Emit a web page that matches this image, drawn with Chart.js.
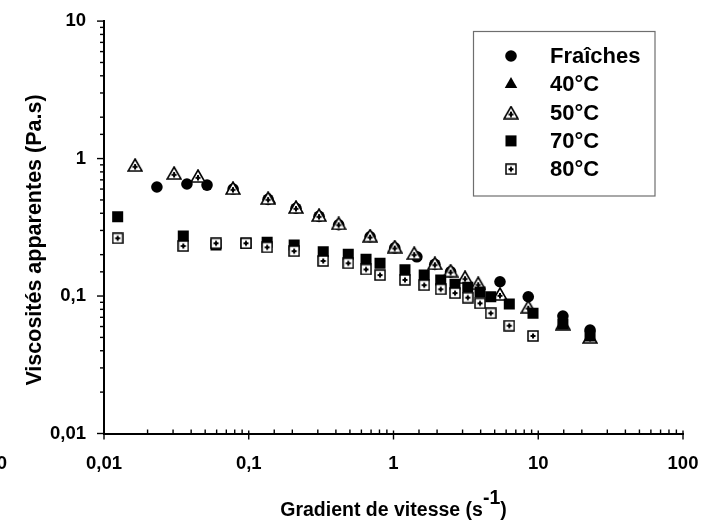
<!DOCTYPE html>
<html>
<head>
<meta charset="utf-8">
<script src="https://cdn.jsdelivr.net/npm/chart.js@4.4.1/dist/chart.umd.min.js"></script>
<style>
  html, body { margin: 0; padding: 0; background: #fff; }
  canvas { display: block; }
</style>
</head>
<body>
<canvas id="viscoChart" width="713" height="522"></canvas>
<script>
// ─── DATA ─────────────────────────────────────────────────────────
const seriesNames = ["Fraîches", "40°C", "50°C", "70°C", "80°C"];

const fraichesX = [0.0232, 0.0374, 0.0515, 0.078, 0.136, 0.212, 0.306, 0.418, 0.689, 1.02, 1.45, 1.93, 2.48, 5.44, 8.53, 14.8, 22.8];
const fraichesY = [0.621, 0.653, 0.641, 0.6, 0.505, 0.435, 0.38, 0.33, 0.27, 0.224, 0.193, 0.17, 0.15, 0.127, 0.0988, 0.0716, 0.0566];

const t40X = [0.0164, 0.0305, 0.0446, 0.078, 0.14, 0.212, 0.306, 0.418, 0.689, 1.02, 1.39, 1.93, 2.48, 3.12, 3.85, 5.44, 8.53, 14.8, 22.8];
const t40Y = [0.88, 0.77, 0.73, 0.6, 0.5, 0.435, 0.38, 0.33, 0.27, 0.225, 0.2, 0.17, 0.15, 0.134, 0.121, 0.101, 0.082, 0.062, 0.049];

const t50X = [0.0164, 0.0305, 0.0446, 0.0778, 0.136, 0.212, 0.306, 0.418, 0.689, 1.02, 1.39, 1.93, 2.48, 3.12, 3.85, 5.44, 8.53, 14.8, 22.8];
const t50Y = [0.897, 0.785, 0.746, 0.61, 0.516, 0.444, 0.388, 0.338, 0.275, 0.229, 0.205, 0.173, 0.153, 0.137, 0.124, 0.1035, 0.0836, 0.063, 0.0504];

const t70X = [0.01243, 0.0353, 0.0594, 0.0957, 0.134, 0.206, 0.327, 0.487, 0.646, 0.807, 1.2, 1.63, 2.12, 2.66, 3.26, 3.96, 4.7, 6.31, 9.2, 14.8, 22.8];
const t70Y = [0.378, 0.273, 0.235, 0.241, 0.246, 0.235, 0.21, 0.201, 0.185, 0.173, 0.155, 0.142, 0.131, 0.122, 0.116, 0.107, 0.0989, 0.0875, 0.0749, 0.0625, 0.0512];

const t80X = [0.01243, 0.0353, 0.0594, 0.0957, 0.134, 0.206, 0.327, 0.487, 0.646, 0.807, 1.2, 1.63, 2.12, 2.66, 3.26, 3.96, 4.7, 6.31, 9.2];
const t80Y = [0.263, 0.231, 0.242, 0.242, 0.226, 0.212, 0.18, 0.173, 0.156, 0.142, 0.131, 0.12, 0.112, 0.105, 0.0973, 0.0885, 0.0749, 0.0608, 0.0512];

const xTickValues = [0.01, 0.1, 1, 10, 100];
const xTickLabels = ["0,01", "0,1", "1", "10", "100"];
const yTickValues = [0.01, 0.1, 1, 10];
const yTickLabels = ["0,01", "0,1", "1", "10"];

const xTitleMain = "Gradient de vitesse (s";
const xTitleSup = "-1";
const xTitleEnd = ")";
const yTitle = "Viscosités apparentes (Pa.s)";
const strayLabel = "0"; // bout de libellé coupé à gauche

// ─── STYLE ────────────────────────────────────────────────────────
const FONT = "'Liberation Sans', Arial, sans-serif";

function toPoints(xs, ys) {
  return xs.map((x, i) => ({ x, y: ys[i] }));
}

function isDecade(v) {
  const l = Math.log10(v);
  return Math.abs(l - Math.round(l)) < 1e-6;
}

function tickLabel(values, labels, v) {
  const i = values.findIndex((tv) => Math.abs(Math.log10(tv) - Math.log10(v)) < 1e-6);
  return i >= 0 ? labels[i] : "";
}

// marqueurs creux avec croix (50°C et 80°C)
function hollowTriangle() {
  const c = document.createElement("canvas");
  c.width = 16;
  c.height = 14;
  const g = c.getContext("2d");
  g.beginPath();
  g.moveTo(8, 1);
  g.lineTo(15, 13);
  g.lineTo(1, 13);
  g.closePath();
  g.fillStyle = "#fff";
  g.fill();
  g.lineWidth = 1.6;
  g.strokeStyle = "#000";
  g.stroke();
  g.fillStyle = "#000";
  g.fillRect(7, 6, 2, 5.5);
  g.fillRect(5.5, 7.8, 5, 2);
  return c;
}

function hollowSquare() {
  const c = document.createElement("canvas");
  c.width = 12;
  c.height = 12;
  const g = c.getContext("2d");
  g.fillStyle = "#fff";
  g.fillRect(1, 1, 10, 10);
  g.lineWidth = 1.5;
  g.strokeStyle = "#000";
  g.strokeRect(1, 1, 10, 10);
  g.fillStyle = "#000";
  g.fillRect(5, 3.5, 2, 5);
  g.fillRect(3.5, 5, 5, 2);
  return c;
}

const triOpen = hollowTriangle();
const sqOpen = hollowSquare();

// ─── PLUGINS ──────────────────────────────────────────────────────
const axisTicks = {
  id: "axisTicks",
  afterDraw(chart) {
    const { ctx, chartArea, scales } = chart;
    ctx.save();
    ctx.strokeStyle = "#000";
    ctx.lineWidth = 1.4;
    scales.x.ticks.forEach((t) => {
      const px = scales.x.getPixelForValue(t.value);
      ctx.beginPath();
      if (isDecade(t.value)) {
        ctx.moveTo(px, chartArea.bottom - 3);
        ctx.lineTo(px, chartArea.bottom + 6);
      } else {
        ctx.moveTo(px, chartArea.bottom);
        ctx.lineTo(px, chartArea.bottom - 4);
      }
      ctx.stroke();
    });
    scales.y.ticks.forEach((t) => {
      const py = scales.y.getPixelForValue(t.value);
      ctx.beginPath();
      ctx.moveTo(chartArea.left, py);
      ctx.lineTo(chartArea.left - (isDecade(t.value) ? 7 : 4), py);
      ctx.stroke();
    });
    ctx.restore();
  },
};

const axisTitles = {
  id: "axisTitles",
  afterDraw(chart) {
    const ctx = chart.ctx;
    const area = chart.chartArea;
    ctx.save();
    ctx.fillStyle = "#000";
    ctx.textBaseline = "alphabetic";

    // titre X avec exposant
    ctx.font = `bold 19.5px ${FONT}`;
    const wMain = ctx.measureText(xTitleMain).width;
    const wSup = ctx.measureText(xTitleSup).width;
    const wEnd = ctx.measureText(xTitleEnd).width;
    let x = (area.left + area.right) / 2 - (wMain + wSup + wEnd) / 2;
    ctx.textAlign = "left";
    ctx.fillText(xTitleMain, x, 516);
    x += wMain;
    ctx.fillText(xTitleSup, x, 504);
    x += wSup;
    ctx.fillText(xTitleEnd, x, 516);

    // titre Y
    ctx.font = `bold 21.5px ${FONT}`;
    ctx.translate(41, 240);
    ctx.rotate(-Math.PI / 2);
    ctx.textAlign = "center";
    ctx.fillText(yTitle, 0, 0);
    ctx.restore();

    ctx.save();
    ctx.font = `bold 18.5px ${FONT}`;
    ctx.textAlign = "right";
    ctx.fillStyle = "#000";
    ctx.fillText(strayLabel, 7, 469);
    ctx.restore();
  },
};

const legendBox = {
  id: "legendBox",
  afterDraw(chart) {
    const ctx = chart.ctx;
    ctx.save();
    ctx.fillStyle = "#fff";
    ctx.fillRect(473.5, 31.5, 181.5, 164.5);
    ctx.strokeStyle = "#6e6e6e";
    ctx.lineWidth = 1.2;
    ctx.strokeRect(473.5, 31.5, 181.5, 164.5);

    ctx.font = `bold 22px ${FONT}`;
    ctx.textAlign = "left";
    ctx.textBaseline = "middle";
    chart.data.datasets.forEach((ds, i) => {
      const y = 56 + i * 28.3;
      ctx.fillStyle = ds.backgroundColor;
      ctx.strokeStyle = ds.borderColor;
      ctx.lineWidth = ds.borderWidth;
      Chart.helpers.drawPoint(
        ctx,
        { pointStyle: ds.pointStyle, radius: ds.pointRadius, rotation: 0, borderWidth: ds.borderWidth },
        511,
        y,
      );
      ctx.fillStyle = "#000";
      ctx.fillText(ds.label, 550, y + 1);
    });
    ctx.restore();
  },
};

// ─── CHART ────────────────────────────────────────────────────────
const ctx = document.getElementById("viscoChart").getContext("2d");

new Chart(ctx, {
  type: "scatter",
  data: {
    datasets: [
      {
        label: seriesNames[0],
        data: toPoints(fraichesX, fraichesY),
        pointStyle: "circle",
        pointRadius: 5.8,
        backgroundColor: "#000",
        borderColor: "#000",
        borderWidth: 0,
        order: 5,
      },
      {
        label: seriesNames[1],
        data: toPoints(t40X, t40Y),
        pointStyle: "triangle",
        pointRadius: 7.2,
        backgroundColor: "#000",
        borderColor: "#000",
        borderWidth: 0,
        order: 4,
      },
      {
        label: seriesNames[2],
        data: toPoints(t50X, t50Y),
        pointStyle: triOpen,
        pointRadius: 7,
        backgroundColor: "#fff",
        borderColor: "#000",
        borderWidth: 0,
        order: 3,
      },
      {
        label: seriesNames[3],
        data: toPoints(t70X, t70Y),
        pointStyle: "rect",
        pointRadius: 7.8,
        backgroundColor: "#000",
        borderColor: "#000",
        borderWidth: 0,
        order: 2,
      },
      {
        label: seriesNames[4],
        data: toPoints(t80X, t80Y),
        pointStyle: sqOpen,
        pointRadius: 6,
        backgroundColor: "#fff",
        borderColor: "#000",
        borderWidth: 0,
        order: 1,
      },
    ],
  },
  options: {
    responsive: false,
    animation: false,
    layout: { padding: { left: 0, top: 21, right: 30, bottom: 0 } },
    plugins: {
      legend: { display: false },
      tooltip: { enabled: false },
    },
    scales: {
      x: {
        type: "logarithmic",
        position: "bottom",
        min: 0.01,
        max: 100,
        grid: { display: false },
        border: { display: true, color: "#000", width: 2 },
        ticks: {
          autoSkip: false,
          maxRotation: 0,
          padding: 11,
          color: "#000",
          font: { family: FONT, size: 18.5, weight: "bold" },
          callback: (v) => tickLabel(xTickValues, xTickLabels, v),
        },
        afterFit: (scale) => {
          scale.height = 88.5;
        },
      },
      y: {
        type: "logarithmic",
        position: "left",
        min: 0.01,
        max: 10,
        grid: { display: false },
        border: { display: true, color: "#000", width: 2 },
        ticks: {
          autoSkip: false,
          padding: 10,
          color: "#000",
          font: { family: FONT, size: 18.5, weight: "bold" },
          callback: (v) => tickLabel(yTickValues, yTickLabels, v),
        },
        afterFit: (scale) => {
          scale.width = 104;
        },
      },
    },
  },
  plugins: [axisTicks, axisTitles, legendBox],
});
</script>
</body>
</html>
